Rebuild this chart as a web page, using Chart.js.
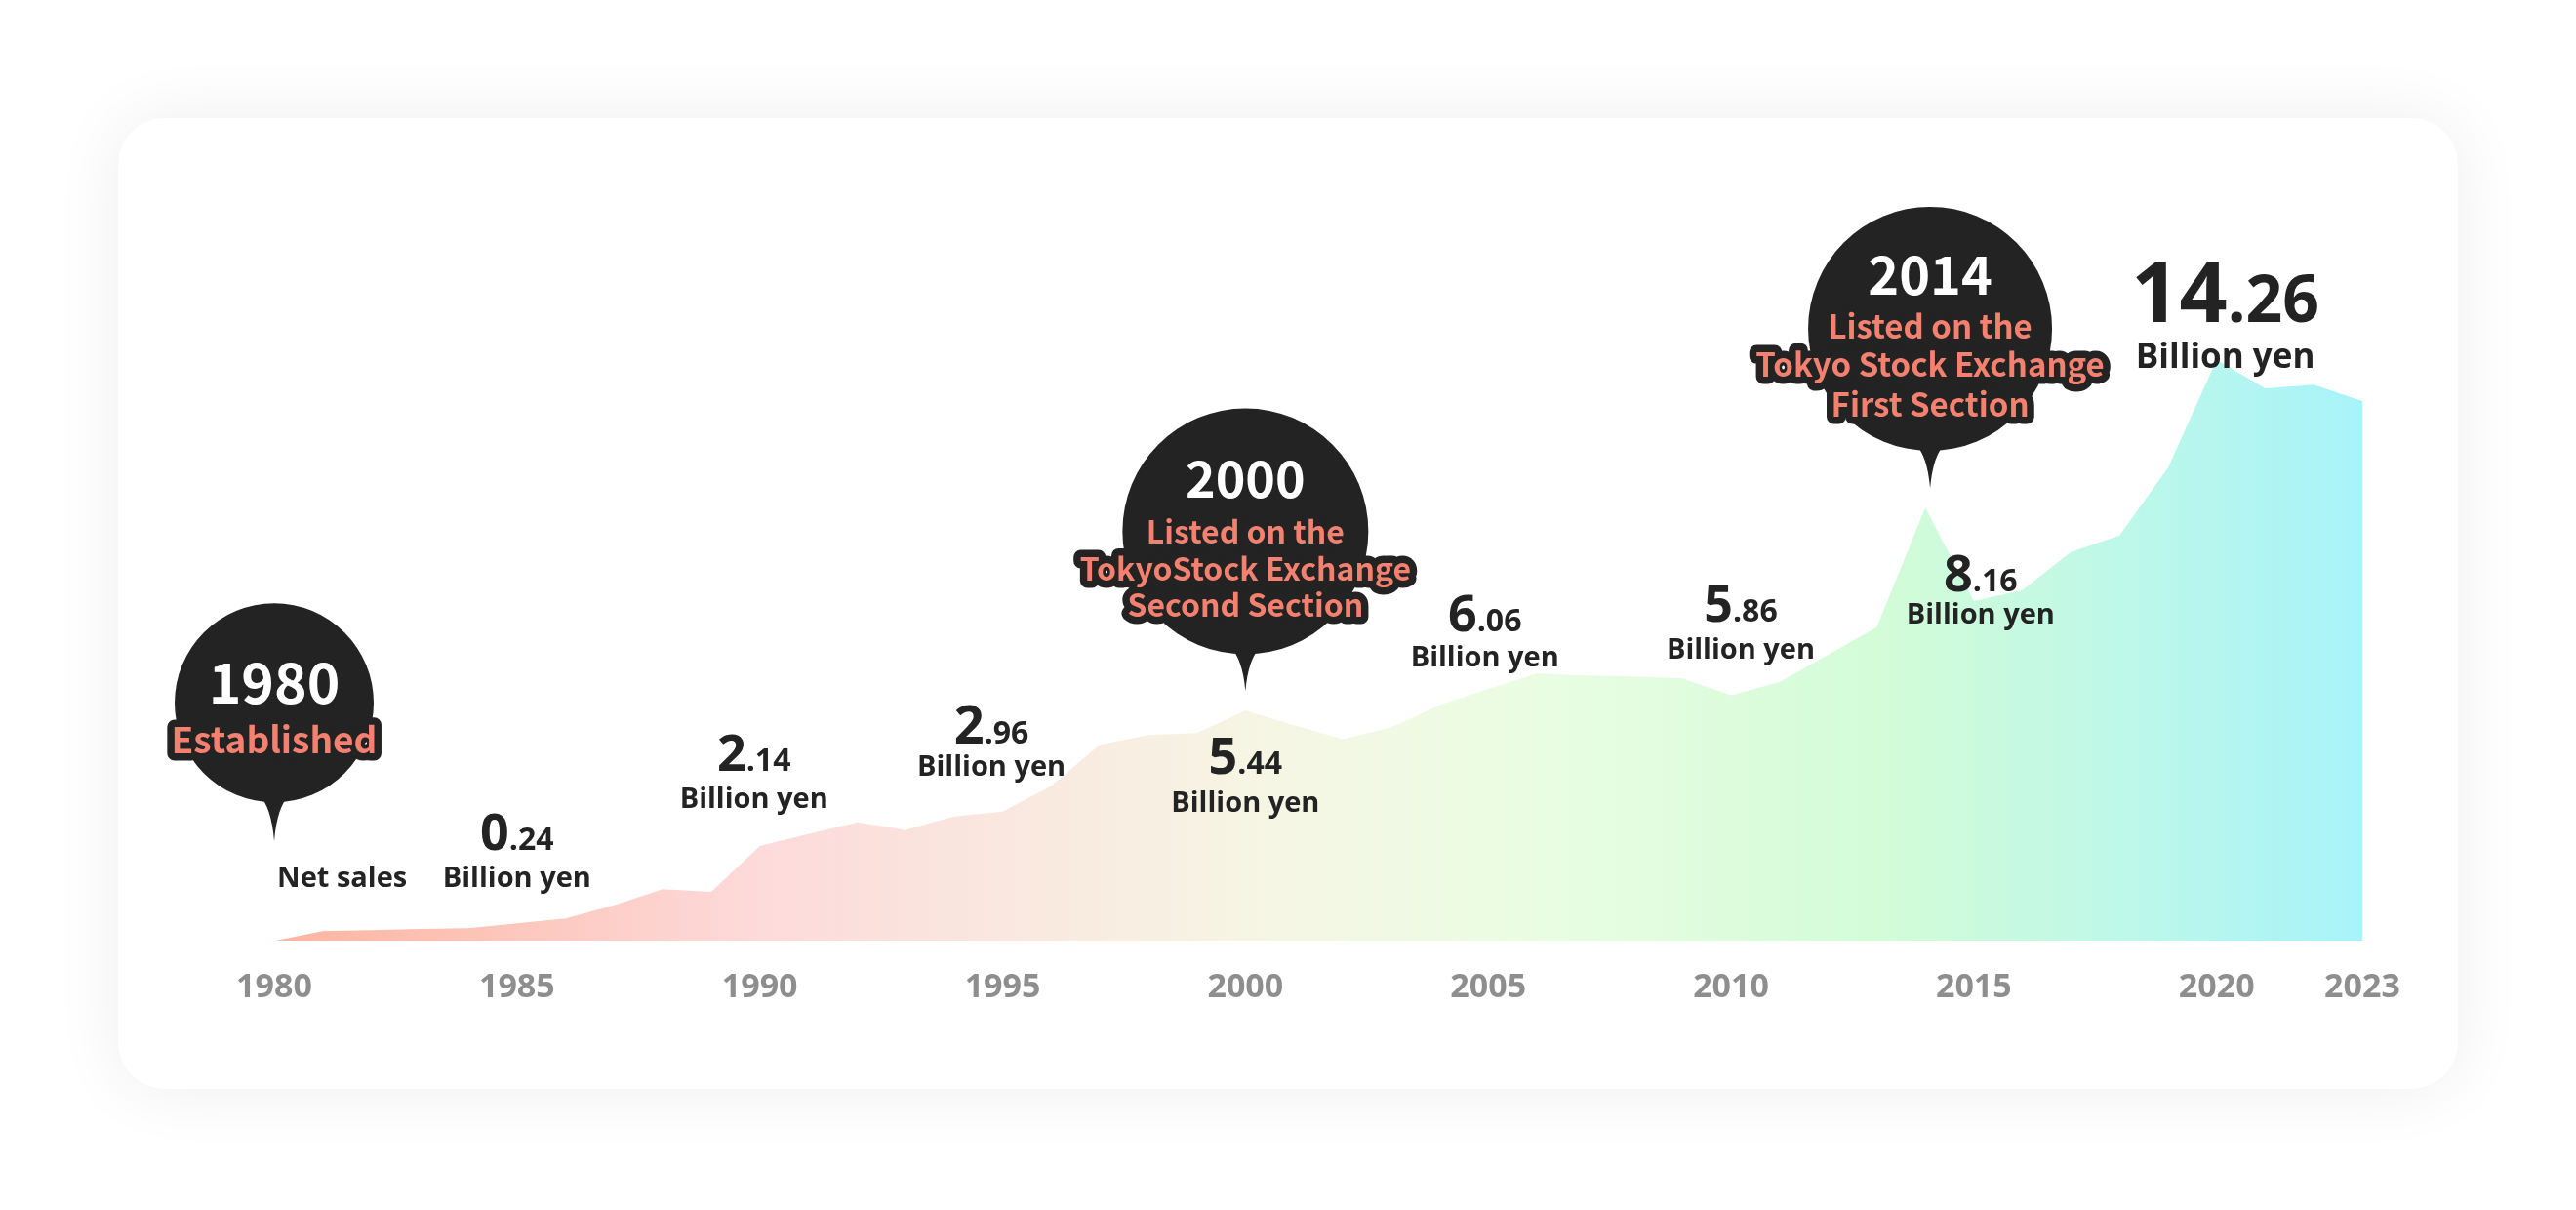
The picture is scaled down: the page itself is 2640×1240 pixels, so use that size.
<!DOCTYPE html>
<html><head><meta charset="utf-8">
<style>
html,body{margin:0;padding:0;background:#fff;width:2640px;height:1240px;overflow:hidden}
#card{position:absolute;left:121px;top:121px;width:2398px;height:995px;background:#fff;border-radius:48px;box-shadow:0 0 70px rgba(0,0,0,0.07)}
#c{position:absolute;left:0;top:0}
</style>
<script src="https://cdn.jsdelivr.net/npm/chart.js@4"></script>
</head><body>
<div id="card"></div>
<canvas id="c" width="2640" height="1240"></canvas>
<script>
const years = [1980,1981,1982,1983,1984,1985,1986,1987,1988,1989,1990,1991,1992,1993,1994,1995,1996,1997,1998,1999,2000,2001,2002,2003,2004,2005,2006,2007,2008,2009,2010,2011,2012,2013,2014,2015,2016,2017,2018,2019,2020,2021,2022,2023];
const netSales = [0,0.24,0.26,0.29,0.31,0.43,0.55,0.87,1.27,1.20,2.33,2.62,2.91,2.72,3.05,3.17,3.80,4.81,5.05,5.10,5.65,5.29,4.95,5.24,5.79,6.18,6.56,6.51,6.49,6.44,6.03,6.35,7.02,7.69,10.63,8.34,8.61,9.54,9.95,11.61,14.26,13.56,13.65,13.25];
const tickYears = [1980,1985,1990,1995,2000,2005,2010,2015,2020,2023];

// value call-outs: anchor year, integer part, decimal part
const calloutYears = [1985,1990,1995,2000,2005,2010,2015,2020];
const calloutInt = ['0','2','2','5','6','5','8','14'];
const calloutDec = ['.24','.14','.96','.44','.06','.86','.16','.26'];
const calloutUnit = 'Billion yen';

// milestones
const milestoneYears = [1980,2000,2014];
const milestoneTitles = ['1980','2000','2014'];
const milestoneLines = [['Established'],['Listed on the','TokyoStock Exchange','Second Section'],['Listed on the','Tokyo Stock Exchange','First Section']];
const netSalesLabel = 'Net sales';

const NUM_FONT = '"Open Sans", "DejaVu Sans", sans-serif';
const JP_FONT = '"Noto Sans CJK JP", "Noto Sans", sans-serif';

// layout of call-outs (x shift in years, number baseline, unit baseline in value units, sizes)
const calloutLayout = [
  {dx:0,    nb:2.24, ub:1.32, big:52, small:32, unit:29},
  {dx:-0.12,nb:4.16, ub:3.25, big:52, small:32, unit:29},
  {dx:-0.23,nb:4.83, ub:4.04, big:54, small:32, unit:29},
  {dx:0,    nb:4.09, ub:3.17, big:52, small:32, unit:29},
  {dx:-0.07,nb:7.60, ub:6.73, big:52, small:32, unit:29},
  {dx:0.2,  nb:7.84, ub:6.92, big:52, small:32, unit:29},
  {dx:0.14, nb:8.58, ub:7.79, big:52, small:32, unit:29},
  {dx:0.18, nb:15.19,ub:14.06,big:86, small:66, unit:35}
];
const milestoneLayout = [
  {dx:0,   cy:5.84, tip:2.45, r:102, titleSize:57, titleOff:1,  lineSize:37, lineOffs:[52]},
  {dx:0,   cy:10.05,tip:6.13, r:126, titleSize:52, titleOff:-35, lineSize:32, lineOffs:[12,50,87]},
  {dx:0.1, cy:15.02,tip:11.11,r:125, titleSize:54, titleOff:-35, lineSize:33, lineOffs:[10,49,90]}
];

const annotations = {
  id:'annotations',
  afterDatasetsDraw(chart){
    const ctx = chart.ctx, xs = chart.scales.x, ys = chart.scales.y;
    ctx.save();
    milestoneYears.forEach((yr,i)=>{
      const L = milestoneLayout[i];
      const cx = xs.getPixelForValue(yr + L.dx);
      const cy = ys.getPixelForValue(L.cy);
      const tip = ys.getPixelForValue(L.tip);
      ctx.fillStyle = '#232323';
      ctx.beginPath(); ctx.arc(cx, cy, L.r, 0, Math.PI*2); ctx.fill();
      const b = cy + L.r;
      ctx.beginPath();
      ctx.moveTo(cx-16, b-8);
      ctx.quadraticCurveTo(cx-3, b+4, cx, tip);
      ctx.quadraticCurveTo(cx+3, b+4, cx+16, b-8);
      ctx.closePath(); ctx.fill();
      ctx.textAlign = 'center'; ctx.textBaseline = 'alphabetic';
      ctx.font = 'bold ' + L.titleSize + 'px ' + JP_FONT;
      ctx.fillStyle = '#ffffff';
      ctx.fillText(milestoneTitles[i], cx, cy + L.titleOff);
      ctx.font = 'bold ' + L.lineSize + 'px ' + JP_FONT;
      ctx.lineJoin = 'round'; ctx.lineWidth = 15; ctx.strokeStyle = '#232323';
      milestoneLines[i].forEach((t,j)=>{
        ctx.strokeText(t, cx, cy + L.lineOffs[j]);
      });
      ctx.fillStyle = '#f4806f';
      milestoneLines[i].forEach((t,j)=>{
        ctx.fillText(t, cx, cy + L.lineOffs[j]);
      });
    });
    ctx.fillStyle = '#232323';
    calloutYears.forEach((yr,i)=>{
      const L = calloutLayout[i];
      const cx = xs.getPixelForValue(yr + L.dx);
      const nb = ys.getPixelForValue(L.nb);
      const ub = ys.getPixelForValue(L.ub);
      ctx.textBaseline = 'alphabetic';
      ctx.font = 'bold ' + L.big + 'px ' + NUM_FONT;
      const w1 = ctx.measureText(calloutInt[i]).width;
      ctx.font = 'bold ' + L.small + 'px ' + NUM_FONT;
      const w2 = ctx.measureText(calloutDec[i]).width;
      const x0 = cx - (w1 + w2)/2;
      ctx.textAlign = 'left';
      ctx.font = 'bold ' + L.big + 'px ' + NUM_FONT;
      ctx.fillText(calloutInt[i], x0, nb);
      ctx.font = 'bold ' + L.small + 'px ' + NUM_FONT;
      ctx.fillText(calloutDec[i], x0 + w1, nb);
      ctx.textAlign = 'center';
      ctx.font = 'bold ' + L.unit + 'px ' + NUM_FONT;
      ctx.fillText(calloutUnit, cx, ub);
    });
    ctx.textAlign = 'center';
    ctx.font = 'bold 29px ' + NUM_FONT;
    ctx.fillText(netSalesLabel, xs.getPixelForValue(1981.4), ys.getPixelForValue(1.32));
    ctx.restore();
  }
};

function areaGradient(context){
  const chart = context.chart, a = chart.chartArea;
  if (!a) return '#fcd';
  const g = chart.ctx.createLinearGradient(a.left, 0, a.right, 0);
  g.addColorStop(0, '#fcb4a0');
  g.addColorStop(0.23, '#fddada');
  g.addColorStop(0.47, '#f6f5e4');
  g.addColorStop(0.6, '#eafde3');
  g.addColorStop(0.77, '#d3fcd7');
  g.addColorStop(1, '#a8f3fa');
  return g;
}

new Chart(document.getElementById('c'), {
  type:'line',
  data:{
    datasets:[{
      label: netSalesLabel,
      data: years.map((y,i)=>({x:y, y:netSales[i]})),
      fill:'origin',
      backgroundColor: areaGradient,
      borderWidth:0,
      pointRadius:0,
      tension:0
    }]
  },
  options:{
    responsive:false, animation:false, devicePixelRatio:1,
    layout:{padding:{left:281, right:219, top:129, bottom:179}},
    plugins:{legend:{display:false}, tooltip:{enabled:false}},
    scales:{
      x:{type:'linear', min:1980, max:2023, offset:false,
        afterBuildTicks: s => { s.ticks = tickYears.map(v=>({value:v})); },
        grid:{display:false, drawTicks:false}, border:{display:false},
        ticks:{padding:28, color:'#8e8e8e', font:{family:NUM_FONT, weight:'bold', size:34}, maxRotation:0, autoSkip:false, callback:v=>String(v)}
      },
      y:{display:false, min:0, max:20}
    }
  },
  plugins:[annotations]
});
</script>
</body></html>
